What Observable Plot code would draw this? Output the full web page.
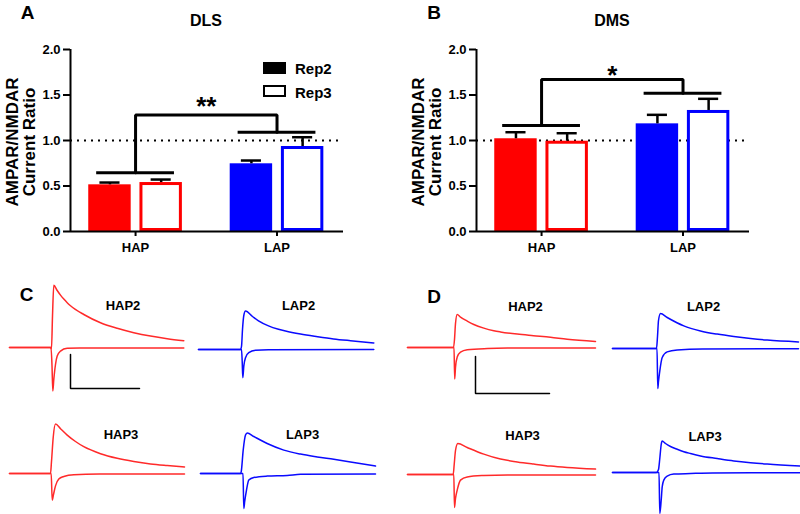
<!DOCTYPE html>
<html><head><meta charset="utf-8">
<script src="https://cdn.jsdelivr.net/npm/d3@7"></script>
<script src="https://cdn.jsdelivr.net/npm/@observablehq/plot@0.6"></script>
<style>
body{margin:0;background:#fff;}
#fig{position:relative;width:800px;height:514px;overflow:hidden;font-family:"Liberation Sans",Arial,sans-serif;color:#000;background:#fff;}
.lbl{position:absolute;transform:translate(-50%,-50%);line-height:1;font-weight:bold;white-space:nowrap;}
.sw{position:absolute;box-sizing:border-box;}
</style></head><body><div id="fig"></div>
<script>
// ---------------- data ----------------
const groups = ["HAP", "LAP"];
const reps = ["Rep2", "Rep3"];
// order: HAP Rep2, HAP Rep3, LAP Rep2, LAP Rep3
const dlsMean = [0.513, 0.538, 0.744, 0.934];
const dlsSem  = [0.025, 0.033, 0.036, 0.102];
const dmsMean = [1.019, 0.992, 1.183, 1.330];
const dmsSem  = [0.072, 0.088, 0.099, 0.128];
// bracket levels: HAP arm, LAP arm, top
const dlsBracket = [0.645, 1.09, 1.28];
const dmsBracket = [1.165, 1.52, 1.67];
const dlsSig = "**";
const dmsSig = "*";
const yTicks = [0, 0.5, 1.0, 1.5, 2.0];
const refLine = 1.0;
const panelTitles = ["DLS", "DMS"];
const yLabel = "AMPAR/NMDAR\nCurrent Ratio";

// traces: [ms, pA] ; upper = +40 mV (NMDAR), lower = -70 mV (AMPAR)
const dlsHap2Up = [[0,0],[41,0],[42,-5],[43,157],[44.3,311],[47.7,285],[51,262],[54.3,242],[57.7,224],[61,209],[74.3,165],[91,124],[107.7,96],[124.3,74],[141,57],[157.7,44],[174.3,34]];
const dlsHap2Dn = [[0,0],[41.5,0],[42.5,-90],[43.3,-218],[44.3,-160],[46,-85],[47.7,-43],[51,-18],[57.7,-4],[70,-2],[174.3,-2]];
const dlsLap2Up = [[0,0],[42,0],[43,15],[44,100],[45.3,170],[47,192],[54,165],[60,143],[70,118],[80,101],[87,92],[102,77],[119,64],[135,53],[152,44],[175.3,33]];
const dlsLap2Dn = [[0,0],[43,0],[43.7,-60],[44.3,-141],[45.3,-83],[47,-41],[50.3,-16],[57,-4],[70,-1],[175.3,0]];
const dlsHap3Up = [[0,0],[41,0],[42,60],[43.7,180],[46,247],[51,224],[57.7,192],[66,160],[74.3,134],[91,99],[107.7,76],[124.3,60],[141,48],[157.7,40],[175,33]];
const dlsHap3Dn = [[0,0],[41.7,0],[42.7,-133],[44,-105],[46,-62],[49.3,-28],[54.3,-15],[64.3,-6],[90,-3],[175,-2]];
const dlsLap3Up = [[0,0],[40,0],[40.7,8],[42.7,117],[45,192],[46.7,203],[53.3,185],[66.7,150],[83.3,117],[100,97],[116.7,83],[133.3,71],[150,58],[175,37]];
const dlsLap3Dn = [[0,0],[42.5,0],[43.3,-175],[44.2,-140],[46,-83],[48.3,-33],[53.3,-20],[66.7,-13],[86.7,-10],[100,-4],[175,-2]];
const dmsHap2Up = [[0,0],[46,0],[47,40],[48,120],[49.7,165],[53,152],[59.7,132],[66.3,115],[76.3,97],[86.3,84],[93,78],[109.7,67],[126,59],[143,51],[159.7,41],[188,30]];
const dmsHap2Dn = [[0,0],[46.5,0],[47.2,-157],[48,-98],[49.7,-48],[53,-23],[59.7,-11],[80,-5],[100,-3],[188,-2]];
const dmsLap2Up = [[0,0],[44,0],[45,60],[46,140],[48,175],[54.7,155],[71.3,113],[88,88],[104.7,72],[121.3,60],[138,50],[154.7,42],[186,33]];
const dmsLap2Dn = [[0,0],[44.5,0],[45.3,-200],[46,-165],[47.3,-112],[49.7,-45],[54.7,-17],[64.7,-7],[90,-2],[186,-1]];
const dmsHap3Up = [[0,0],[45.7,0],[46.7,50],[48,120],[50.3,155],[59.7,135],[76.3,102],[93,77],[109.7,63],[126.3,52],[143,42],[159.7,35],[188,27]];
const dmsHap3Dn = [[0,0],[46.3,0],[47,-165],[48,-120],[49.7,-78],[53,-28],[59.7,-12],[76.3,-5],[100,-2],[188,-2]];
const dmsLap3Up = [[0,0],[44,0],[46,15],[47.3,70],[48.7,140],[49.7,157],[53,145],[58,130],[64.7,116],[71.3,104],[78,95],[88,83],[104.7,70],[121.3,58],[138,49],[154.7,42],[188,32]];
const dmsLap3Dn = [[0,0],[46.5,0],[47.3,-205],[48.7,-139],[49.7,-72],[51.3,-38],[54.7,-18],[61.3,-8],[78,-5],[100,-2],[188,-1]];
// scale bars [ms, pA]
const dlsScaleBar = [69, 170];
const dmsScaleBar = [74, 185];

// ---------------- style / layout ----------------
const FONT = '"Liberation Sans", Arial, sans-serif';
const groupColor = {HAP: "#ff0000", LAP: "#0000ff"};
const traceColor = {HAP: "#ff2a2a", LAP: "#0a0aff"};
const XDOM = [-0.46, 1.47], OFF = 0.181, HALF = 0.15, CAP = 0.071, ARM = 0.275;
const fig = document.getElementById("fig");

function place(el, left, top) {
  el.style.position = "absolute";
  el.style.left = left + "px";
  el.style.top = top + "px";
  fig.appendChild(el);
}
function label(text, x, y, size) {
  const d = document.createElement("div");
  d.className = "lbl";
  d.textContent = text;
  d.style.left = x + "px"; d.style.top = y + "px"; d.style.fontSize = size + "px";
  fig.appendChild(d);
}

function barChart(means, sems, bracket, sig, sigDy) {
  const rows = [];
  groups.forEach((g, gi) => reps.forEach((r, ri) => {
    const k = gi * 2 + ri;
    rows.push({group: g, rep: r, pos: gi + (ri ? OFF : -OFF), mean: means[k], sem: sems[k], color: groupColor[g]});
  }));
  const [hapY, lapY, topY] = bracket;
  const arms = [{c: 0, y: hapY}, {c: 1, y: lapY}];
  const connector = [{x: 0, y: hapY}, {x: 0, y: topY}, {x: 1, y: topY}, {x: 1, y: lapY}];
  return Plot.plot({
    width: 400, height: 260, marginTop: 49, marginBottom: 29, marginLeft: 70, marginRight: 57,
    style: {fontFamily: FONT, background: "transparent", overflow: "visible", color: "#000"},
    x: {domain: XDOM, axis: null},
    y: {domain: [0, 2], axis: null},
    color: {type: "identity"},
    marks: [
      Plot.ruleY([refLine], {strokeDasharray: "2,5", strokeWidth: 2, stroke: "#000"}),
      Plot.rect(rows.filter(d => d.rep === "Rep2"), {x1: d => d.pos - HALF, x2: d => d.pos + HALF, y1: 0, y2: "mean", fill: "color"}),
      Plot.rect(rows.filter(d => d.rep === "Rep3"), {x1: d => d.pos - HALF, x2: d => d.pos + HALF, y1: 0, y2: "mean", fill: "white", stroke: "color", strokeWidth: 3, inset: 1.5}),
      Plot.ruleX(rows, {x: "pos", y1: "mean", y2: d => d.mean + d.sem, strokeWidth: 2.5, stroke: "#000"}),
      Plot.ruleY(rows, {y: d => d.mean + d.sem, x1: d => d.pos - CAP, x2: d => d.pos + CAP, strokeWidth: 2.5, stroke: "#000"}),
      Plot.ruleY(arms, {y: "y", x1: d => d.c - ARM, x2: d => d.c + ARM, strokeWidth: 3, stroke: "#000"}),
      Plot.line(connector, {x: "x", y: "y", strokeWidth: 3, stroke: "#000", strokeLinejoin: "miter"}),
      Plot.text([{x: 0.5, y: topY, s: sig}], {x: "x", y: "y", text: "s", dy: sigDy, fontSize: 26, fontWeight: "bold", lineAnchor: "middle", fill: "#000"}),
      Plot.ruleX([XDOM[0]], {strokeWidth: 2, stroke: "#000"}),
      Plot.ruleY([0], {strokeWidth: 2, stroke: "#000"}),
      Plot.axisY(yTicks, {tickSize: 7, tickPadding: 3, tickFormat: d => d.toFixed(1), fontSize: 13, fontWeight: "bold", strokeWidth: 2, label: null}),
      Plot.axisX([0, 1], {tickSize: 5, tickPadding: 6, tickFormat: i => groups[i], fontSize: 13, fontWeight: "bold", strokeWidth: 2, label: null}),
      Plot.text([yLabel], {frameAnchor: "left", rotate: -90, dx: -49, dy: 1.5, fontSize: 17, fontWeight: "bold", lineHeight: 1, textAnchor: "middle", lineAnchor: "middle", fill: "#000"})
    ]
  });
}

function tracePlot(up, dn, group, name, lx, ly, scaleBar, corner) {
  const toObj = a => a.map(([t, pA]) => ({t, pA}));
  const marks = [
    Plot.line(toObj(dn), {x: "t", y: "pA", stroke: traceColor[group], strokeWidth: 1.5, curve: "monotone-x"}),
    Plot.line(toObj(up), {x: "t", y: "pA", stroke: traceColor[group], strokeWidth: 1.5, curve: "monotone-x"}),
    Plot.text([name], {frameAnchor: "top-left", dx: lx, dy: ly, fontSize: 13, fontWeight: "bold", textAnchor: "middle", lineAnchor: "middle", fill: "#000"})
  ];
  if (scaleBar) {
    const [t0, p0] = corner;
    marks.push(Plot.line([{t: t0, pA: p0 + scaleBar[1]}, {t: t0, pA: p0}, {t: t0 + scaleBar[0], pA: p0}],
      {x: "t", y: "pA", stroke: "#000", strokeWidth: 1.5, strokeLinejoin: "miter"}));
  }
  return Plot.plot({
    width: 190, height: 130, margin: 0,
    style: {fontFamily: FONT, background: "transparent", overflow: "visible"},
    x: {domain: [0, 190], axis: null},
    y: {domain: [-300, 350], axis: null},
    marks
  });
}

// ---------------- bar charts ----------------
place(barChart(dlsMean, dlsSem, dlsBracket, dlsSig, -8), 0, 0);
place(barChart(dmsMean, dmsSem, dmsBracket, dmsSig, -4), 406, 0);

label("A", 27.5, 12, 19);
label("B", 434, 12, 19);
label("C", 26.5, 294, 19);
label("D", 434, 295.5, 19);
label(panelTitles[0], 206, 21, 16);
label(panelTitles[1], 612, 21, 16);

// legend (panel A)
const legendFill = ["#000", "#fff"];
reps.forEach((r, i) => {
  const s = document.createElement("div");
  s.className = "sw";
  s.style.cssText += `left:263px;top:${62 + i * 23}px;width:23px;height:12px;background:${legendFill[i]};border:2.5px solid #000;`;
  fig.appendChild(s);
  const t = document.createElement("div");
  t.className = "lbl";
  t.textContent = r;
  t.style.cssText += `left:295px;top:${68 + i * 23.5}px;font-size:15px;transform:translate(0,-50%);`;
  fig.appendChild(t);
});

// ---------------- traces ----------------
place(tracePlot(dlsHap2Up, dlsHap2Dn, "HAP", "HAP2", 113.5, 28.5, dlsScaleBar, [61, -205]), 9, 276.5);
place(tracePlot(dlsLap2Up, dlsLap2Dn, "LAP", "LAP2", 100, 26.5), 198, 278.5);
place(tracePlot(dlsHap3Up, dlsHap3Dn, "HAP", "HAP3", 111.5, 31.3), 9, 402.7);
place(tracePlot(dlsLap3Up, dlsLap3Dn, "LAP", "LAP3", 102, 31.7), 200, 403.3);
place(tracePlot(dmsHap2Up, dmsHap2Dn, "HAP", "HAP2", 118, 29, dmsScaleBar, [68, -230]), 407, 277);
place(tracePlot(dmsLap2Up, dmsLap2Dn, "LAP", "LAP2", 91, 28.3), 612, 277.7);
place(tracePlot(dmsHap3Up, dmsHap3Dn, "HAP", "HAP3", 115, 31.7), 407, 404.3);
place(tracePlot(dmsLap3Up, dmsLap3Dn, "LAP", "LAP3", 92.5, 34.2), 612, 402.3);
</script></body></html>
